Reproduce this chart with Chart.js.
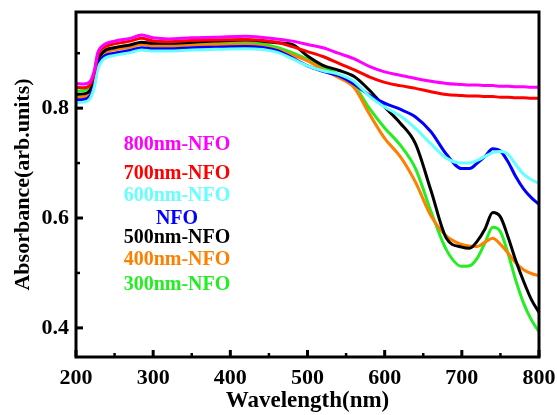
<!DOCTYPE html>
<html lang="en">
<head>
    <meta charset="UTF-8">
    <title>Absorbance spectra</title>
    <script src="https://cdn.jsdelivr.net/npm/chart.js"></script>
    <style>
        html, body { margin: 0; padding: 0; background: #fff; }
        #wrap { width: 557px; height: 415px; }
    </style>
</head>
<body>
    <div id="wrap"><canvas id="absChart" width="557" height="415"></canvas></div>
    <script>
        // wavelength grid (nm)
        const wavelengths = [200, 210, 218, 224, 228, 235, 250, 270, 285, 300, 320, 350, 380, 420, 460, 480, 500, 520, 540, 560, 580, 600, 620, 640, 660, 680, 700, 710, 720, 730, 740, 750, 760, 770, 780, 790, 800];

        const nfo800 = [0.845, 0.844, 0.848, 0.870, 0.900, 0.914, 0.922, 0.927, 0.933, 0.928, 0.926, 0.928, 0.929, 0.931, 0.926, 0.922, 0.916, 0.910, 0.900, 0.890, 0.876, 0.866, 0.860, 0.854, 0.849, 0.845, 0.843, 0.842, 0.842, 0.841, 0.841, 0.840, 0.840, 0.839, 0.839, 0.838, 0.838];
        const nfo700 = [0.838, 0.837, 0.842, 0.865, 0.895, 0.909, 0.917, 0.922, 0.927, 0.922, 0.921, 0.923, 0.924, 0.925, 0.920, 0.912, 0.903, 0.894, 0.882, 0.870, 0.857, 0.847, 0.841, 0.836, 0.830, 0.825, 0.823, 0.822, 0.822, 0.821, 0.821, 0.820, 0.820, 0.819, 0.819, 0.818, 0.818];
        const nfo600 = [0.810, 0.811, 0.817, 0.840, 0.870, 0.888, 0.896, 0.901, 0.906, 0.904, 0.904, 0.906, 0.907, 0.908, 0.902, 0.890, 0.877, 0.868, 0.862, 0.849, 0.822, 0.802, 0.786, 0.763, 0.735, 0.709, 0.700, 0.700, 0.705, 0.712, 0.719, 0.721, 0.716, 0.697, 0.680, 0.670, 0.663];
        const nfo = [0.815, 0.816, 0.822, 0.845, 0.875, 0.893, 0.900, 0.905, 0.910, 0.908, 0.908, 0.910, 0.911, 0.912, 0.905, 0.892, 0.877, 0.867, 0.859, 0.844, 0.824, 0.809, 0.798, 0.784, 0.757, 0.716, 0.690, 0.690, 0.700, 0.712, 0.726, 0.722, 0.702, 0.675, 0.653, 0.637, 0.625];
        const nfo500 = [0.825, 0.826, 0.832, 0.855, 0.885, 0.902, 0.910, 0.915, 0.920, 0.918, 0.918, 0.920, 0.922, 0.924, 0.919, 0.916, 0.895, 0.878, 0.869, 0.858, 0.833, 0.802, 0.773, 0.735, 0.650, 0.563, 0.547, 0.545, 0.558, 0.580, 0.610, 0.602, 0.565, 0.522, 0.485, 0.452, 0.428];
        const nfo400 = [0.820, 0.821, 0.827, 0.850, 0.880, 0.898, 0.906, 0.911, 0.916, 0.913, 0.913, 0.915, 0.916, 0.916, 0.907, 0.897, 0.886, 0.870, 0.856, 0.838, 0.790, 0.745, 0.712, 0.665, 0.604, 0.567, 0.552, 0.549, 0.548, 0.556, 0.563, 0.552, 0.536, 0.518, 0.506, 0.499, 0.495];
        const nfo300 = [0.831, 0.832, 0.838, 0.860, 0.888, 0.903, 0.910, 0.914, 0.918, 0.915, 0.915, 0.917, 0.918, 0.919, 0.911, 0.901, 0.889, 0.875, 0.861, 0.842, 0.800, 0.764, 0.733, 0.690, 0.612, 0.542, 0.512, 0.513, 0.527, 0.555, 0.583, 0.575, 0.535, 0.486, 0.445, 0.415, 0.393];

        const seriesLabels = ['800nm-NFO', '700nm-NFO', '600nm-NFO', 'NFO', '500nm-NFO', '400nm-NFO', '300nm-NFO'];
        const seriesData = [nfo800, nfo700, nfo600, nfo, nfo500, nfo400, nfo300];
        const seriesColors = ['#ff00ff', '#ff0000', '#66ffff', '#0000ff', '#000000', '#ff8000', '#22ee22'];

        const serif = '"Liberation Serif", "Times New Roman", serif';

        // legend text rows (y in px) placed inside the plot
        const legendRows = [145, 174, 196, 219, 238, 260, 285];

        const framePlugin = {
            id: 'frame',
            afterDatasetsDraw(chart) {
                const { ctx, chartArea: a, scales } = chart;
                ctx.save();
                ctx.strokeStyle = '#000';
                ctx.lineWidth = 3;
                ctx.strokeRect(a.left, a.top, a.right - a.left, a.bottom - a.top);
                // inward ticks
                scales.x.ticks.forEach(t => {
                    const px = scales.x.getPixelForValue(t.value);
                    const major = t.value % 100 === 0;
                    ctx.lineWidth = major ? 3 : 2.5;
                    ctx.beginPath();
                    ctx.moveTo(px, a.bottom);
                    ctx.lineTo(px, a.bottom - (major ? 7 : 4));
                    ctx.stroke();
                });
                scales.y.ticks.forEach(t => {
                    const py = scales.y.getPixelForValue(t.value);
                    const major = Math.round(t.value * 10) % 2 === 0;
                    ctx.lineWidth = major ? 3 : 2.5;
                    ctx.beginPath();
                    ctx.moveTo(a.left, py);
                    ctx.lineTo(a.left + (major ? 7 : 4), py);
                    ctx.stroke();
                });
                // legend as coloured text
                ctx.font = 'bold 20px ' + serif;
                ctx.textAlign = 'center';
                ctx.textBaseline = 'middle';
                chart.data.datasets.forEach((ds, i) => {
                    ctx.fillStyle = ds.borderColor;
                    ctx.fillText(ds.label, 177, legendRows[i]);
                });
                ctx.restore();
            }
        };

        const ctx = document.getElementById('absChart').getContext('2d');
        new Chart(ctx, {
            type: 'line',
            data: {
                datasets: seriesLabels.map((label, i) => ({
                    label: label,
                    data: wavelengths.map((w, j) => ({ x: w, y: seriesData[i][j] })),
                    borderColor: seriesColors[i],
                    borderWidth: 3,
                    pointRadius: 0,
                    fill: false,
                    tension: 0.4,
                    cubicInterpolationMode: 'monotone'
                }))
            },
            options: {
                responsive: false,
                animation: false,
                layout: { padding: { top: 12, right: 18, left: 0, bottom: 0 } },
                plugins: { legend: { display: false }, tooltip: { enabled: false } },
                scales: {
                    x: {
                        type: 'linear',
                        min: 200,
                        max: 800,
                        grid: { display: false, drawTicks: false },
                        border: { display: false },
                        afterFit: s => { s.height = 58; s.paddingRight = 0; s.paddingLeft = 0; },
                        ticks: {
                            stepSize: 50,
                            padding: 8,
                            autoSkip: false,
                            maxRotation: 0,
                            minRotation: 0,
                            color: '#000',
                            font: { family: serif, size: 22, weight: 'bold' },
                            callback: v => (v % 100 === 0 ? String(v) : '')
                        },
                        title: {
                            display: true,
                            text: 'Wavelength(nm)',
                            color: '#000',
                            padding: { top: 0, bottom: 0 },
                            font: { family: serif, size: 23, weight: 'bold' }
                        }
                    },
                    y: {
                        min: 0.347,
                        max: 0.975,
                        grid: { display: false, drawTicks: false },
                        border: { display: false },
                        afterFit: s => { s.width = 76; s.paddingTop = 0; s.paddingBottom = 0; },
                        afterBuildTicks: s => {
                            s.ticks = [0.4, 0.5, 0.6, 0.7, 0.8, 0.9].map(v => ({ value: v }));
                        },
                        ticks: {
                            padding: 7,
                            color: '#000',
                            font: { family: serif, size: 22, weight: 'bold' },
                            callback: v => ([0.4, 0.6, 0.8].some(m => Math.abs(m - v) < 1e-6) ? v.toFixed(1) : '')
                        },
                        title: {
                            display: true,
                            text: 'Absorbance(arb.units)',
                            color: '#000',
                            padding: { top: 10, bottom: 0 },
                            font: { family: serif, size: 22, weight: 'bold' }
                        }
                    }
                }
            },
            plugins: [framePlugin]
        });
    </script>
</body>
</html>
